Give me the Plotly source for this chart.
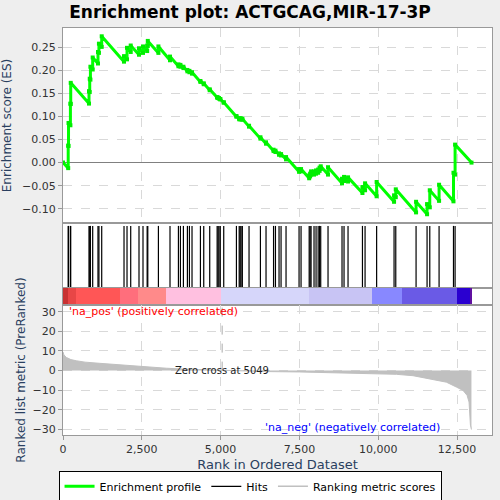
import plotly.graph_objects as go

# hit positions (rank in ordered dataset)
hit_ranks = [165, 175, 235, 245, 825, 848, 870, 942, 1110, 1140, 1228, 1936, 2031, 2148,
             2411, 2538, 2670, 2690, 3027, 3395, 3662, 3725, 3820, 3947, 4011, 4093, 4360,
             4465, 4655, 4890, 4920, 4950, 4990, 5099, 5502, 5590, 5620, 5650, 5690, 5902,
             6263, 6441, 6680, 6740, 6854, 6918, 7076, 7489, 7552, 7810, 7840, 7870, 7964,
             8028, 8095, 8140, 8176, 8408, 8852, 8916, 9043, 9500, 9583, 9950, 10503, 10557,
             11201, 11550, 11636, 11931, 12388, 12439]

# running enrichment score just before / just after each hit
es_before = [-0.012, 0.036, 0.081, 0.127, 0.128, 0.153, 0.180, 0.202, 0.215, 0.238, 0.251,
             0.219, 0.224, 0.240, 0.234, 0.238, 0.242, 0.253, 0.238, 0.222, 0.209, 0.208,
             0.205, 0.198, 0.196, 0.193, 0.175, 0.170, 0.157, 0.141, 0.140, 0.139, 0.137,
             0.130, 0.0995, 0.094, 0.094, 0.094, 0.093, 0.078, 0.052, 0.041, 0.025, 0.023,
             0.017, 0.0155, 0.007, -0.020, -0.019, -0.034, -0.030, -0.026, -0.026, -0.024,
             -0.022, -0.018, -0.014, -0.026, -0.045, -0.040, -0.041, -0.066, -0.060, -0.073,
             -0.085, -0.075, -0.108, -0.112, -0.097, -0.083, -0.084, -0.026]
es_after = [0.037, 0.086, 0.128, 0.173, 0.155, 0.182, 0.208, 0.228, 0.240, 0.258, 0.274,
            0.231, 0.249, 0.254, 0.248, 0.252, 0.254, 0.264, 0.252, 0.230, 0.213, 0.212,
            0.208, 0.201, 0.199, 0.196, 0.177, 0.172, 0.159, 0.142, 0.141, 0.140, 0.138,
            0.131, 0.101, 0.096, 0.096, 0.096, 0.095, 0.080, 0.055, 0.044, 0.028, 0.026,
            0.020, 0.0185, 0.012, -0.014, -0.014, -0.028, -0.024, -0.019, -0.019, -0.017,
            -0.015, -0.011, -0.008, -0.010, -0.035, -0.031, -0.032, -0.053, -0.045, -0.042,
            -0.071, -0.058, -0.085, -0.090, -0.060, -0.048, -0.022, 0.039]
n_genes = 12960
es_end = 0.0

# ranked list metric (sampled along the ordered list)
metric_rank = [0, 30, 106, 250, 423, 700, 1164, 1700, 2222, 2800, 3280, 3800, 4340, 5049,
               5700, 6450, 7510, 8570, 9630, 10050, 10580, 11105, 11635, 12165, 12482,
               12692, 12819, 12882, 12926, 12940, 12958]
metric_val = [9.5, 8.0, 6.7, 5.6, 5.0, 4.3, 3.7, 3.0, 2.4, 1.8, 1.2, 0.8, 0.5, 0.0,
              -0.3, -0.5, -0.7, -1.0, -1.4, -1.5, -1.9, -2.6, -4.1, -5.9, -8.4,
              -10.1, -12.6, -16.0, -27.8, -30.0, -30.0]
zero_cross = 5049

# colour band under the hits
band_edges = [0, 159, 423, 1799, 2381, 3280, 5026, 7800, 9787, 10739, 12484, 12929, 12960]
band_colors = ["#c83232", "#e84646", "#ff5656", "#ff6e7c", "#ff8a8a", "#ffc0e0", "#d6d6fa",
               "#c8c4f4", "#8888ff", "#6a5ae6", "#2a00d0", "#6010a0"]

es_x = [0]
es_y = [0.0]
for r, b, a in zip(hit_ranks, es_before, es_after):
    es_x += [r, r]
    es_y += [b, a]
es_x.append(n_genes)
es_y.append(es_end)

hx, hy = [], []
for r in hit_ranks:
    hx += [r, r, None]
    hy += [0, 0.955, None]

font = "DejaVu Sans"
fig = go.Figure()

fig.add_trace(go.Scatter(x=es_x, y=es_y, mode="lines", name="Enrichment profile",
                         line=dict(color="#00ff00", width=3), xaxis="x", yaxis="y"))
fig.add_trace(go.Scatter(x=es_x, y=es_y, mode="markers", showlegend=False,
                         marker=dict(color="#00ee00", size=4, symbol="square"),
                         xaxis="x", yaxis="y"))
fig.add_trace(go.Scatter(x=hx, y=hy, mode="lines", name="Hits",
                         line=dict(color="black", width=1.2), xaxis="x2", yaxis="y2"))
fig.add_trace(go.Scatter(x=metric_rank, y=metric_val, mode="lines", fill="tozeroy",
                         showlegend=False, fillcolor="#c0c0c0",
                         line=dict(color="#c0c0c0", width=1), xaxis="x4", yaxis="y4"))
fig.add_trace(go.Scatter(x=[None], y=[None], mode="lines", name="Ranking metric scores",
                         line=dict(color="#c0c0c0", width=1.5), xaxis="x4", yaxis="y4"))

centers = [(band_edges[i] + band_edges[i + 1]) / 2 for i in range(len(band_colors))]
widths = [band_edges[i + 1] - band_edges[i] for i in range(len(band_colors))]
fig.add_trace(go.Bar(x=centers, y=[1] * len(centers), width=widths,
                     marker=dict(color=band_colors, line=dict(width=0)),
                     showlegend=False, hoverinfo="skip", xaxis="x3", yaxis="y3"))

fig.add_trace(go.Scatter(x=[zero_cross, zero_cross], y=[0, 33.4], mode="lines",
                         line=dict(color="#aaaaaa", width=1, dash="dash"),
                         showlegend=False, xaxis="x4", yaxis="y4"))

xr = [0, 13610]
grid = dict(showgrid=True, gridcolor="#d9d9d9", griddash="dash", gridwidth=1)
box = dict(showline=True, mirror=True, linecolor="#999999", linewidth=1, automargin=False)
tick_font = dict(family=font, size=11, color="#333333")

fig.update_layout(
    width=500, height=500,
    margin=dict(l=63, r=8, t=28, b=65, autoexpand=False),
    paper_bgcolor="#eeeeee", plot_bgcolor="white",
    bargap=0,
    title=dict(text="<b>Enrichment plot: ACTGCAG,MIR-17-3P</b>", x=0.5, xref="container",
               y=0.975, yref="container", xanchor="center", yanchor="middle",
               font=dict(family=font, size=17, color="black")),
    xaxis=dict(range=xr, domain=[0, 1], anchor="y", showticklabels=False,
               tickvals=[0, 2500, 5000, 7500, 10000, 12500], **grid, **box),
    yaxis=dict(range=[-0.131, 0.292], domain=[0.5209, 1],
               tickvals=[-0.10, -0.05, 0.0, 0.05, 0.10, 0.15, 0.20, 0.25],
               tickformat=".2f", ticks="outside", ticklen=4, tickcolor="#999999",
               zeroline=True, zerolinecolor="#808080", zerolinewidth=1,
               title=dict(text="Enrichment score (ES)", standoff=8, font=dict(family=font, size=12)),
               tickfont=tick_font, **grid, **box),
    xaxis2=dict(range=xr, domain=[0, 1], anchor="y2", matches="x", showticklabels=False,
                showgrid=False, **box),
    yaxis2=dict(range=[0, 1], domain=[0.3612, 0.5209], showticklabels=False, showgrid=False,
                zeroline=False, **box),
    xaxis3=dict(range=xr, domain=[0, 1], anchor="y3", matches="x", showticklabels=False,
                showgrid=False, **box),
    yaxis3=dict(range=[0, 1], domain=[0.3194, 0.3612], showticklabels=False, showgrid=False,
                zeroline=False, **box),
    xaxis4=dict(range=xr, domain=[0, 1], anchor="y4", matches="x",
                tickvals=[0, 2500, 5000, 7500, 10000, 12500], tickformat=",d",
                ticks="outside", ticklen=4, tickcolor="#999999", tickfont=tick_font,
                title=dict(text="Rank in Ordered Dataset", standoff=4, font=dict(family=font, size=13)),
                zeroline=False, **grid, **box),
    yaxis4=dict(range=[-32.8, 33.4], domain=[0, 0.3194], tickvals=[-30, -20, -10, 0, 10, 20, 30],
                ticks="outside", ticklen=4, tickcolor="#999999", tickfont=tick_font, zeroline=False,
                title=dict(text="Ranked list metric (PreRanked)", standoff=4, font=dict(family=font, size=12)),
                **grid, **box),
    legend=dict(orientation="h", x=0.436, y=-0.088, xanchor="center", yanchor="top",
                bgcolor="white", bordercolor="black", borderwidth=1,
                font=dict(family=font, size=11, color="black"), itemwidth=30,
                tracegroupgap=0),
    font=dict(family=font),
)

fig.add_annotation(x=zero_cross, y=0, xref="x4", yref="y4", text="Zero cross at 5049",
                   showarrow=False, font=dict(family=font, size=10, color="#222222"))
fig.add_annotation(x=117, y=30, xref="x4", yref="y4", text="'na_pos' (positively correlated)",
                   showarrow=False, xanchor="left", font=dict(family=font, size=11, color="red"))
fig.add_annotation(x=9200, y=-28.8, xref="x4", yref="y4", text="'na_neg' (negatively correlated)",
                   showarrow=False, xanchor="center", font=dict(family=font, size=11, color="blue"))

fig.write_html("out.html", config={"displayModeBar": False},
               post_script="document.body.style.margin='0';")
